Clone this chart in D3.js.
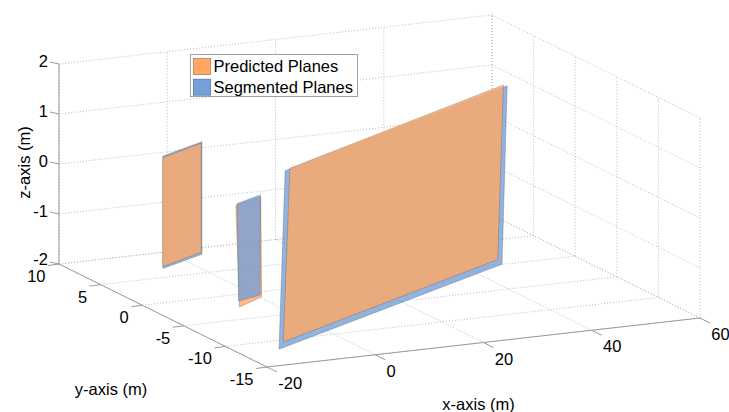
<!DOCTYPE html>
<html>
<head>
<meta charset="utf-8">
<script src="https://cdn.jsdelivr.net/npm/d3@7"></script>
<style>
  body { margin: 0; background: #fff; }
  svg { display: block; }
  text { font-family: "Liberation Sans", Arial, Helvetica, sans-serif; fill: #000; }
</style>
</head>
<body>
<svg id="chart" width="729" height="412"></svg>
<script>
// ---- data ----
const xDomain = [-20, 60];
const yDomain = [-15, 10];
const zDomain = [-2, 2];
const xTicks = [-20, 0, 20, 40, 60];
const yTicks = [-15, -10, -5, 0, 5, 10];
const zTicks = [-2, -1, 0, 1, 2];

const seriesNames = ["Predicted Planes", "Segmented Planes"];
const seriesColors = ["#FFA865", "#74A0D8"];

// plane corners as [x, y, z] in metres
const predictedPlanes = [
  [[-11.3, 3.2, -1.6], [-11.3, 3.2, 0.58], [-1.1, 5.2, 0.58], [-1.1, 5.2, -1.6]],
  [[-8.95, -4.5, -1.8], [-9.0, -4.1, 0.2], [-2.7, -3.0, 0.2], [-2.55, -3.0, -1.8]],
  [[-11.45, -11.4, -1.9], [-10.85, -11.8, 1.6], [46.5, -0.15, 1.6], [45.85, 0.1, -1.9]]
];
const segmentedPlanes = [
  [[-11.05, 3.33, -1.65], [-11.05, 3.33, 0.6], [-0.85, 5.27, 0.6], [-0.85, 5.27, -1.65]],
  [[-8.05, -3.8, -1.75], [-8.2, -3.75, 0.2], [-2.15, -2.6, 0.2], [-2.2, -2.6, -1.8]],
  [[-13.25, -12.05, -1.97], [-12.35, -12.2, 1.6], [46.9, -0.35, 1.6], [46.1, -0.25, -1.97]]
];
// series drawn on top for each plane pair (nearer the camera)
const frontSeries = [0, 1, 0];

// ---- projection (orthographic box) ----
const svg = d3.select("#chart");
const origin = [267, 367];          // (xmin, ymin, zmin)
const ex = [433, -49];              // full x extent on screen
const ey = [-208, -103];            // full y extent on screen
const ez = [0, -200];               // full z extent on screen
const sx = d3.scaleLinear().domain(xDomain).range([0, 1]);
const sy = d3.scaleLinear().domain(yDomain).range([0, 1]);
const sz = d3.scaleLinear().domain(zDomain).range([0, 1]);
function proj(p) {
  const a = sx(p[0]), b = sy(p[1]), c = sz(p[2]);
  return [origin[0] + a * ex[0] + b * ey[0] + c * ez[0],
          origin[1] + a * ex[1] + b * ey[1] + c * ez[1]];
}
const [x0, x1] = xDomain, [y0, y1] = yDomain, [z0, z1] = zDomain;

// ---- grid on the three back faces ----
const gridSegs = [];
xTicks.forEach(x => { gridSegs.push([[x, y0, z0], [x, y1, z0]]); gridSegs.push([[x, y1, z0], [x, y1, z1]]); });
yTicks.forEach(y => { gridSegs.push([[x0, y, z0], [x1, y, z0]]); gridSegs.push([[x1, y, z0], [x1, y, z1]]); });
zTicks.forEach(z => { gridSegs.push([[x0, y1, z], [x1, y1, z]]); gridSegs.push([[x1, y0, z], [x1, y1, z]]); });

svg.append("g").selectAll("line").data(gridSegs).join("line")
  .attr("x1", d => proj(d[0])[0]).attr("y1", d => proj(d[0])[1])
  .attr("x2", d => proj(d[1])[0]).attr("y2", d => proj(d[1])[1])
  .attr("stroke", "#bdbdbd").attr("stroke-width", 1)
  .attr("stroke-dasharray", "1,2");

// ---- axis lines ----
const axisSegs = [
  [[x0, y1, z0], [x0, y1, z1]],
  [[x0, y0, z0], [x0, y1, z0]],
  [[x0, y0, z0], [x1, y0, z0]]
];
svg.append("g").selectAll("line").data(axisSegs).join("line")
  .attr("x1", d => proj(d[0])[0]).attr("y1", d => proj(d[0])[1])
  .attr("x2", d => proj(d[1])[0]).attr("y2", d => proj(d[1])[1])
  .attr("stroke", "#9a9a9a").attr("stroke-width", 1);

// ---- tick marks and labels ----
const fontSize = 16.5;
const tickG = svg.append("g");
function tick(p, dx, dy) {
  const [px, py] = proj(p);
  tickG.append("line").attr("x1", px).attr("y1", py).attr("x2", px + dx).attr("y2", py + dy)
    .attr("stroke", "#9a9a9a").attr("stroke-width", 1);
}
const fmt = v => String(v);
zTicks.forEach(z => {
  tick([x0, y1, z], -9, -2);
  const [px, py] = proj([x0, y1, z]);
  tickG.append("text").attr("x", px - 11).attr("y", py - (z === z0 ? 5.5 : 3.5))
    .attr("text-anchor", "end").attr("dominant-baseline", "central")
    .attr("font-size", fontSize).text(fmt(z));
});
yTicks.forEach(y => {
  tick([x0, y, z0], -11, 1.5);
  const [px, py] = proj([x0, y, z0]);
  tickG.append("text").attr("x", px - 13.5).attr("y", py + 12)
    .attr("text-anchor", "end").attr("dominant-baseline", "central")
    .attr("font-size", fontSize).text(fmt(y));
});
xTicks.forEach(x => {
  tick([x, y0, z0], 10, 5);
  const [px, py] = proj([x, y0, z0]);
  tickG.append("text").attr("x", px + 11.3).attr("y", py + 16)
    .attr("text-anchor", "start").attr("dominant-baseline", "central")
    .attr("font-size", fontSize).text(fmt(x));
});

// axis titles
svg.append("text").attr("transform", "translate(24,162.5) rotate(-90)")
  .attr("text-anchor", "middle").attr("dominant-baseline", "central")
  .attr("font-size", fontSize).text("z-axis (m)");
svg.append("text").attr("x", 111).attr("y", 389)
  .attr("text-anchor", "middle").attr("dominant-baseline", "central")
  .attr("font-size", fontSize).text("y-axis (m)");
svg.append("text").attr("x", 478.5).attr("y", 404)
  .attr("text-anchor", "middle").attr("dominant-baseline", "central")
  .attr("font-size", fontSize).text("x-axis (m)");

// ---- planes ----
const series = [predictedPlanes, segmentedPlanes];
const line = d3.line().curve(d3.curveLinearClosed);
const planeG = svg.append("g");
predictedPlanes.forEach((_, i) => {
  const order = frontSeries[i] === 0 ? [1, 0] : [0, 1];
  order.forEach(s => {
    planeG.append("path")
      .attr("d", line(series[s][i].map(proj)))
      .attr("fill", seriesColors[s]).attr("fill-opacity", 0.8)
      .attr("stroke", "#4a4a4a").attr("stroke-opacity", 0.35).attr("stroke-width", 0.8)
      .attr("stroke-linejoin", "round");
  });
});

// ---- legend ----
const lg = svg.append("g").attr("transform", "translate(190.5,54.5)");
lg.append("rect").attr("width", 167).attr("height", 42)
  .attr("fill", "#fff").attr("stroke", "#a0a0a0").attr("stroke-width", 1);
seriesNames.forEach((name, i) => {
  const yy = 4 + i * 20.7;
  lg.append("rect").attr("x", 3).attr("y", yy).attr("width", 17).attr("height", 16)
    .attr("fill", seriesColors[i]).attr("stroke", d3.color(seriesColors[i]).darker(0.8)).attr("stroke-width", 0.8);
  lg.append("text").attr("x", 23).attr("y", yy + 13.8)
    .attr("font-size", fontSize).text(name);
});
</script>
</body>
</html>
